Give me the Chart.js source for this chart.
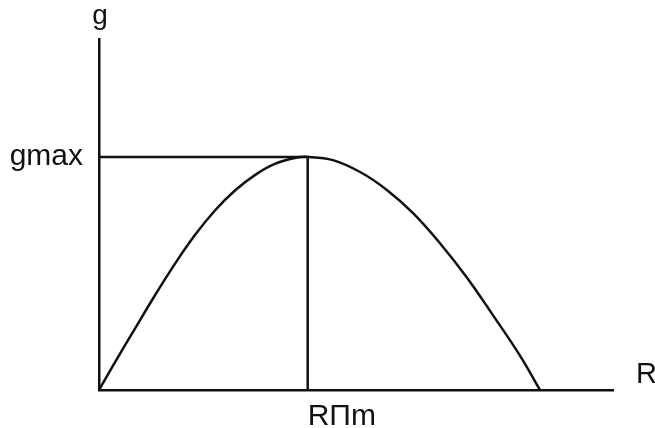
<!DOCTYPE html>
<html>
<head>
<meta charset="utf-8">
<script src="https://cdn.jsdelivr.net/npm/chart.js@4/dist/chart.umd.min.js"></script>
<style>
  html, body { margin: 0; padding: 0; background: #fff; }
  #wrap { width: 655px; height: 428px; }
</style>
</head>
<body>
<div id="wrap"><canvas id="grafik"></canvas></div>
<script>
// curve g(R), in axis units (0..100 on both axes)
var rDegerleri = [0, 3.1, 7.0, 10.9, 14.8, 18.7, 22.6, 26.5, 30.4, 34.2, 38.1, 40.6,
                  45.5, 50.8, 56.0, 61.1, 66.3, 71.6, 76.7, 81.9, 85.8];
var gDegerleri = [0, 7.9, 17.5, 27.0, 36.0, 44.2, 51.2, 56.9, 61.3, 64.4, 66.1, 66.4,
                  65.5, 62.1, 57.0, 50.4, 41.9, 32.0, 21.2, 9.8, 0];

// the maximum point and its labels
var tepeR = 40.6;
var gMax = 66.4;
var xEtiket = "RΠm";
var yEtiket = "gmax";
var xBaslik = "R";
var yBaslik = "g";

var renk = "#111111";
var yazi = "Liberation Sans, Arial, sans-serif";

var egri = [];
for (let i = 0; i < rDegerleri.length; i++) {
    egri.push({ x: rDegerleri[i], y: gDegerleri[i] });
}

// "g" above the y axis, "R" right of the x axis
var basliklar = {
    id: "basliklar",
    afterDraw: function (chart) {
        var ctx = chart.ctx;
        var alan = chart.chartArea;
        ctx.save();
        ctx.fillStyle = renk;
        ctx.font = "28px " + yazi;
        ctx.textAlign = "center";
        ctx.textBaseline = "alphabetic";
        ctx.fillText(yBaslik, alan.left + 1, 24);
        ctx.font = "29px " + yazi;
        ctx.textAlign = "left";
        ctx.fillText(xBaslik, alan.right + 23, alan.bottom - 7);
        ctx.restore();
    }
};

new Chart(document.getElementById("grafik"), {
    type: "scatter",
    data: {
        datasets: [{
            data: egri,
            showLine: true,
            borderColor: renk,
            borderWidth: 2.5,
            pointRadius: 0,
            tension: 0.4
        }, {
            // guide lines to the maximum
            data: [{ x: 0, y: gMax }, { x: tepeR, y: gMax }, { x: tepeR, y: 0 }],
            showLine: true,
            borderColor: renk,
            borderWidth: 2.5,
            pointRadius: 0,
            tension: 0
        }]
    },
    options: {
        responsive: true,
        maintainAspectRatio: false,
        animation: false,
        layout: { padding: { top: 39, right: 42, left: 0, bottom: 0 } },
        plugins: { legend: { display: false }, tooltip: { enabled: false } },
        scales: {
            x: {
                type: "linear",
                min: 0,
                max: 100,
                grid: { display: false },
                border: { display: true, color: renk, width: 2.5 },
                afterBuildTicks: function (s) { s.ticks = [{ value: tepeR }]; },
                afterFit: function (s) { s.height = 38; },
                ticks: {
                    align: "start",
                    padding: 1,
                    color: renk,
                    font: { family: yazi, size: 30 },
                    callback: function () { return xEtiket; }
                }
            },
            y: {
                type: "linear",
                min: 0,
                max: 100,
                grid: { display: false },
                border: { display: true, color: renk, width: 2.5 },
                afterBuildTicks: function (s) { s.ticks = [{ value: gMax }]; },
                afterFit: function (s) { s.width = 99; },
                ticks: {
                    padding: 8,
                    color: renk,
                    font: { family: yazi, size: 30 },
                    callback: function () { return yEtiket; }
                }
            }
        }
    },
    plugins: [basliklar]
});
</script>
</body>
</html>
